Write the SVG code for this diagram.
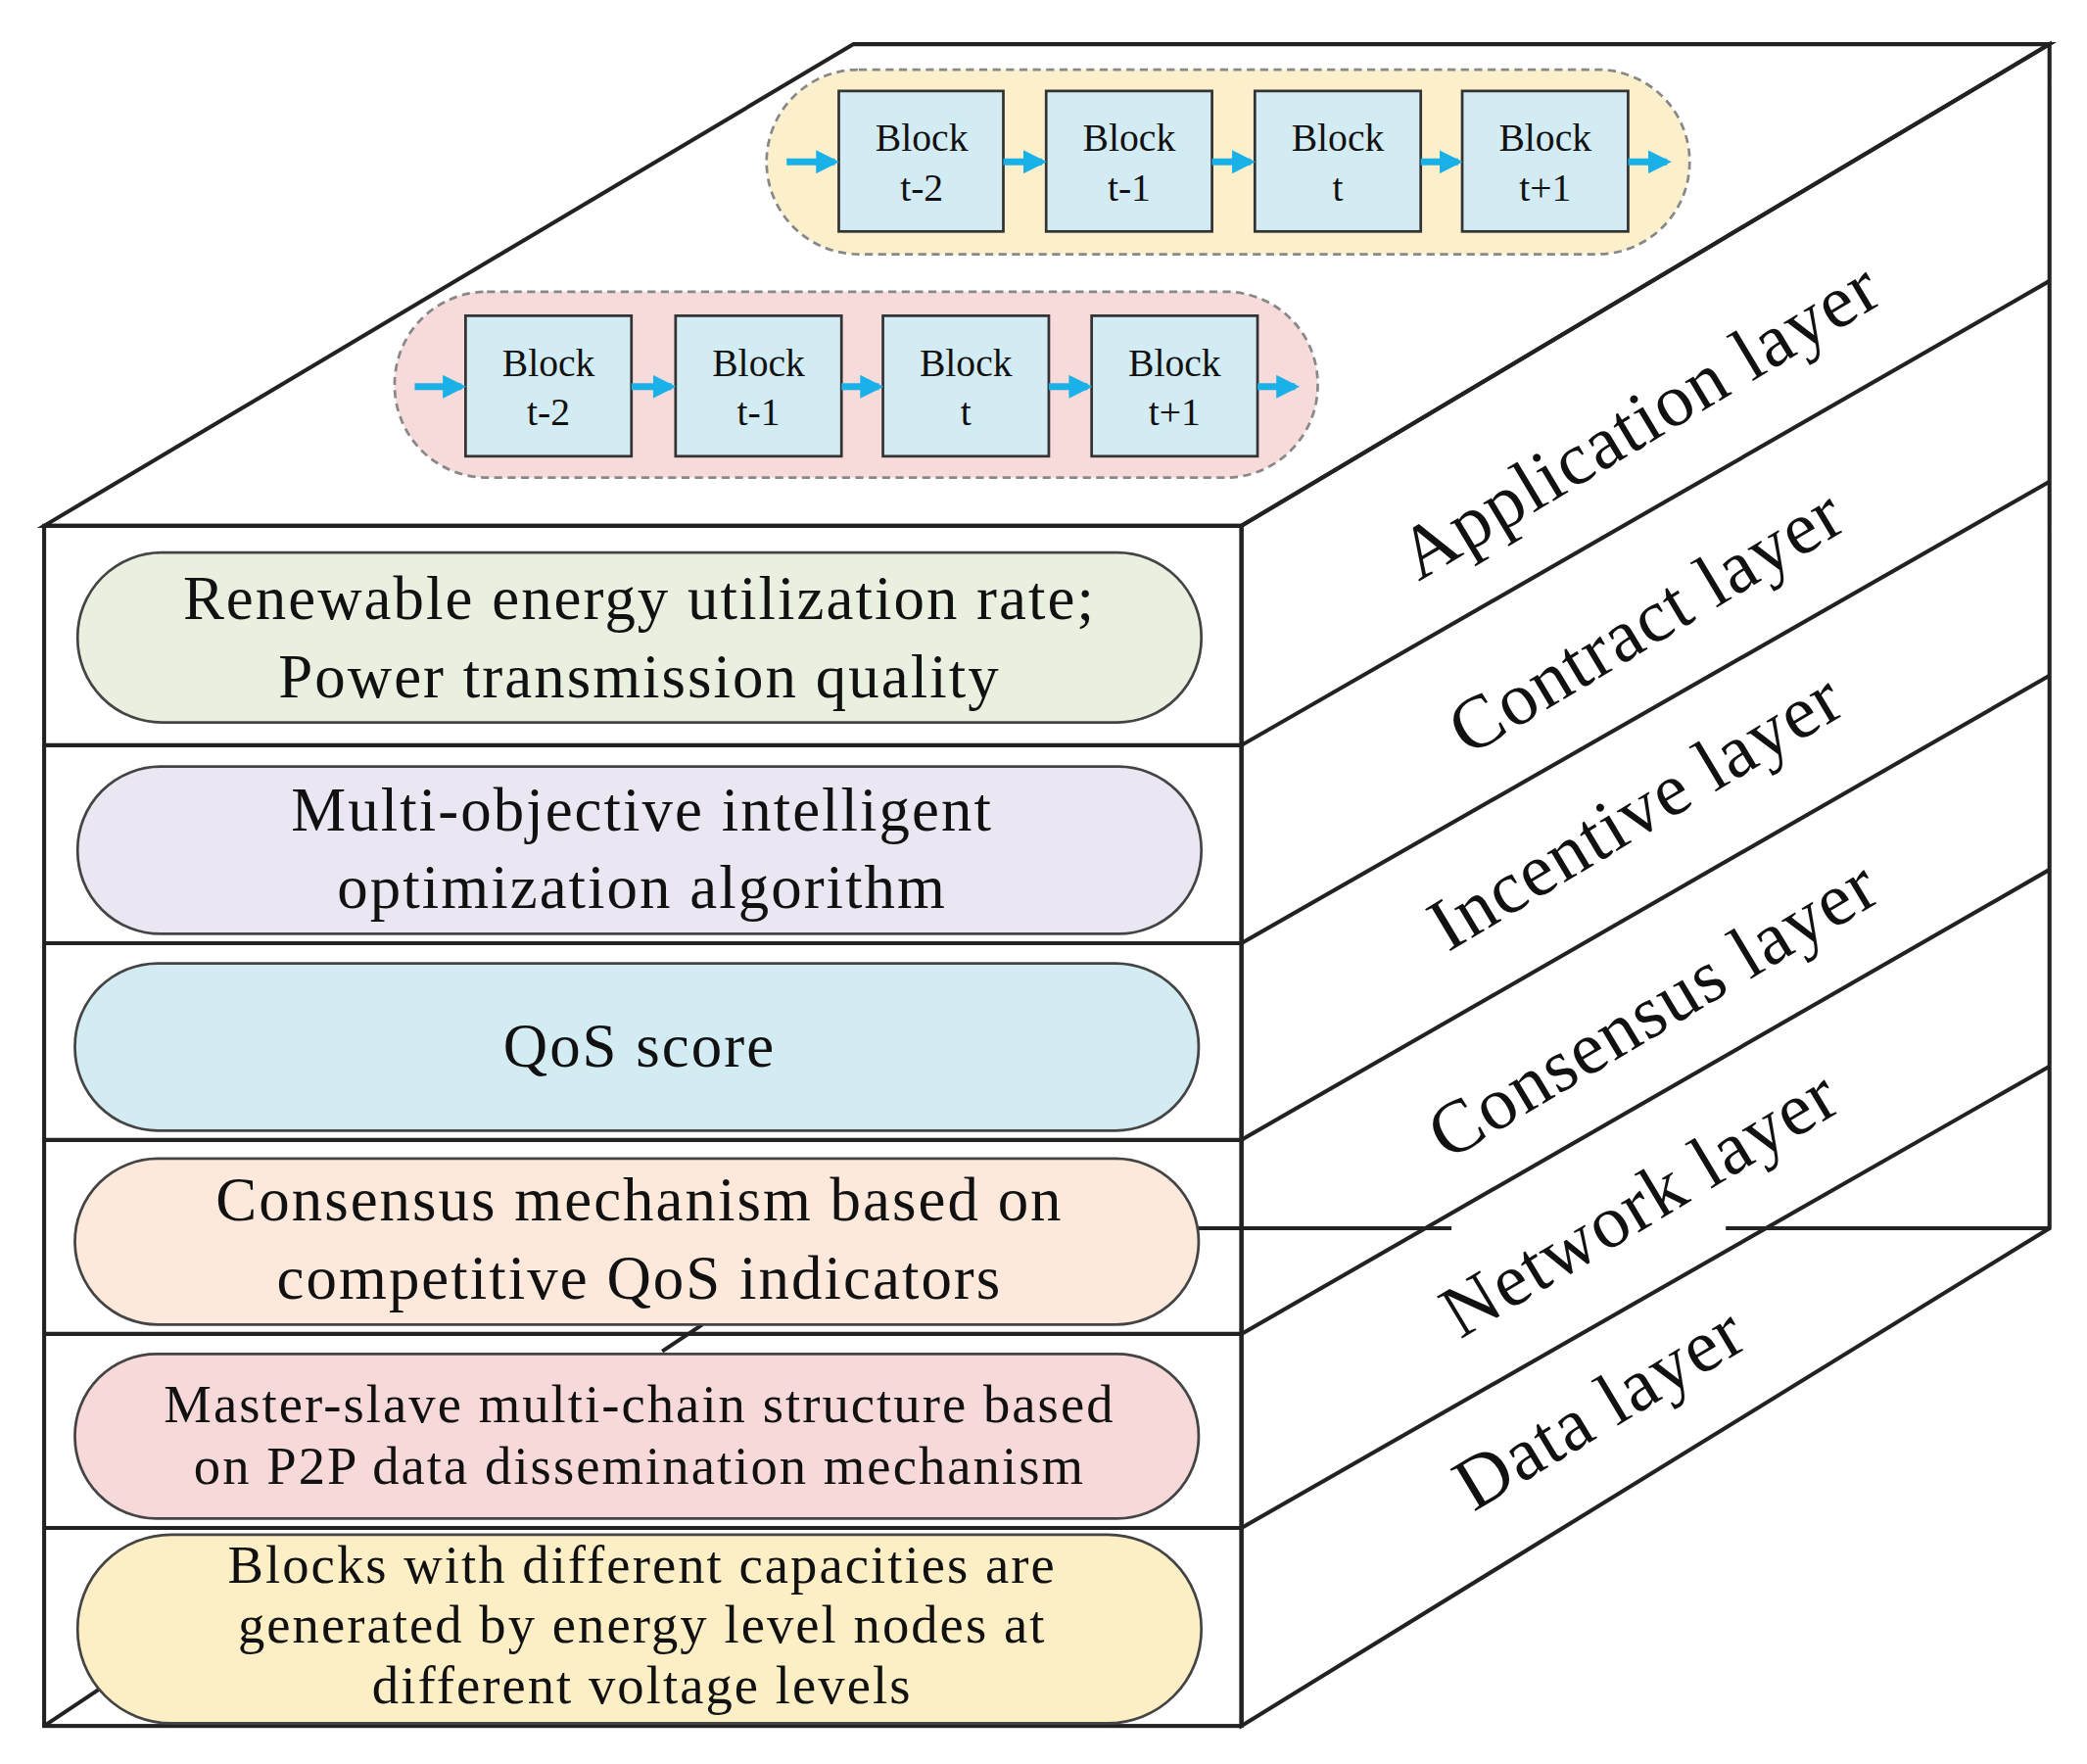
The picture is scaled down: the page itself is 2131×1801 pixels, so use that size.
<svg xmlns="http://www.w3.org/2000/svg" width="2131" height="1801" viewBox="0 0 2131 1801">
<defs>
<style>
.e{stroke:#222;stroke-width:3;fill:none}
.pill{stroke:#444;stroke-width:2}
.t{font-family:"Liberation Serif",serif;text-anchor:middle;fill:#111}
.big{font-size:46px;letter-spacing:1.5px}
.mid{font-size:40px;letter-spacing:1.5px}
.side{font-size:56px;letter-spacing:1px}
.blk{fill:#d3ecf3;stroke:#333;stroke-width:2}
.bt{font-size:29px}
.ar{stroke:#1ab0e8;stroke-width:5;marker-end:url(#a)}
</style>
<marker id="a" viewBox="0 0 10 10" refX="8" refY="5" markerWidth="3.5" markerHeight="3.5" orient="auto"><path d="M0,0L10,5L0,10z" fill="#1ab0e8"/></marker>
</defs>
<rect width="2131" height="1801" fill="#fff"/>
<g transform="scale(1.366)">
<g id="cube">
<polygon points="33,393 928,393 1532,33 638,33" fill="#ececec" class="e"/>
<rect x="33" y="393" width="895" height="897" fill="#fff" class="e"/>
<polygon points="928,393 1532,33 1532,918 928,1290" fill="#fff" class="e"/>
<path class="e" d="M33,557H928L1532,210M33,705H928L1532,360M33,852H928L1532,505M33,997H928L1532,650M33,1142H928L1532,797M895,918H1085M1290,918H1532M33,1290L75,1262M495,1010L525,990"/>
</g>
<g id="chain1">
<rect x="573" y="52" width="690" height="138" rx="69" fill="#fcf0cc" stroke="#888" stroke-dasharray="6,4" stroke-width="2"/>
<rect class="blk" x="627" y="68" width="123" height="105"/><text class="t bt" x="689" y="113">Block</text><text class="t bt" x="689" y="150">t-2</text>
<rect class="blk" x="782" y="68" width="124" height="105"/><text class="t bt" x="844" y="113">Block</text><text class="t bt" x="844" y="150">t-1</text>
<rect class="blk" x="938" y="68" width="124" height="105"/><text class="t bt" x="1000" y="113">Block</text><text class="t bt" x="1000" y="150">t</text>
<rect class="blk" x="1093" y="68" width="124" height="105"/><text class="t bt" x="1155" y="113">Block</text><text class="t bt" x="1155" y="150">t+1</text>
</g>
<g id="chain2">
<rect x="295" y="218" width="690" height="139" rx="69" fill="#f7dada" stroke="#888" stroke-dasharray="6,4" stroke-width="2"/>
<rect class="blk" x="348" y="236" width="124" height="105"/><text class="t bt" x="410" y="281">Block</text><text class="t bt" x="410" y="318">t-2</text>
<rect class="blk" x="505" y="236" width="124" height="105"/><text class="t bt" x="567" y="281">Block</text><text class="t bt" x="567" y="318">t-1</text>
<rect class="blk" x="660" y="236" width="124" height="105"/><text class="t bt" x="722" y="281">Block</text><text class="t bt" x="722" y="318">t</text>
<rect class="blk" x="816" y="236" width="124" height="105"/><text class="t bt" x="878" y="281">Block</text><text class="t bt" x="878" y="318">t+1</text>
</g>
<g id="connectors">
<line class="ar" x1="588" y1="121" x2="624" y2="121"/><line class="ar" x1="750" y1="121" x2="779" y2="121"/><line class="ar" x1="906" y1="121" x2="935" y2="121"/><line class="ar" x1="1062" y1="121" x2="1090" y2="121"/><line class="ar" x1="1217" y1="121" x2="1246" y2="121"/>
<line class="ar" x1="310" y1="289" x2="345" y2="289"/><line class="ar" x1="472" y1="289" x2="502" y2="289"/><line class="ar" x1="629" y1="289" x2="657" y2="289"/><line class="ar" x1="784" y1="289" x2="813" y2="289"/><line class="ar" x1="940" y1="289" x2="968" y2="289"/>
</g>
<g id="n1"><rect class="pill" x="58" y="413" width="840" height="127" rx="63" fill="#e9f0e0"/><text class="t big" x="478" y="463">Renewable energy utilization rate;</text><text class="t big" x="478" y="521">Power transmission quality</text></g>
<g id="n2"><rect class="pill" x="58" y="573" width="840" height="125" rx="62" fill="#ebe7f2"/><text class="t big" x="480" y="621">Multi-objective intelligent</text><text class="t big" x="480" y="679">optimization algorithm</text></g>
<g id="n3"><rect class="pill" x="56" y="720" width="840" height="125" rx="62" fill="#d3ecf3"/><text class="t big" x="478" y="797">QoS score</text></g>
<g id="n4"><rect class="pill" x="56" y="866" width="840" height="124" rx="62" fill="#fde9dc"/><text class="t big" x="478" y="912">Consensus mechanism based on</text><text class="t big" x="478" y="971">competitive QoS indicators</text></g>
<g id="n5"><rect class="pill" x="56" y="1012" width="840" height="123" rx="61" fill="#f7d9d9"/><text class="t mid" x="478" y="1063">Master-slave multi-chain structure based</text><text class="t mid" x="478" y="1109">on P2P data dissemination mechanism</text></g>
<g id="n6"><rect class="pill" x="58" y="1147" width="840" height="141" rx="70" fill="#fcefc6"/><text class="t mid" x="480" y="1183">Blocks with different capacities are</text><text class="t mid" x="480" y="1228">generated by energy level nodes at</text><text class="t mid" x="480" y="1273">different voltage levels</text></g>
<g id="labels">
<text class="t side" transform="translate(1235,330) rotate(-31)">Application layer</text>
<text class="t side" transform="translate(1240,480) rotate(-31)">Contract layer</text>
<text class="t side" transform="translate(1232,622) rotate(-31)">Incentive layer</text>
<text class="t side" transform="translate(1245,770) rotate(-31)">Consensus layer</text>
<text class="t side" transform="translate(1235,915) rotate(-31)">Network layer</text>
<text class="t side" transform="translate(1205,1068) rotate(-31)">Data layer</text>
</g>
</g>
</svg>
